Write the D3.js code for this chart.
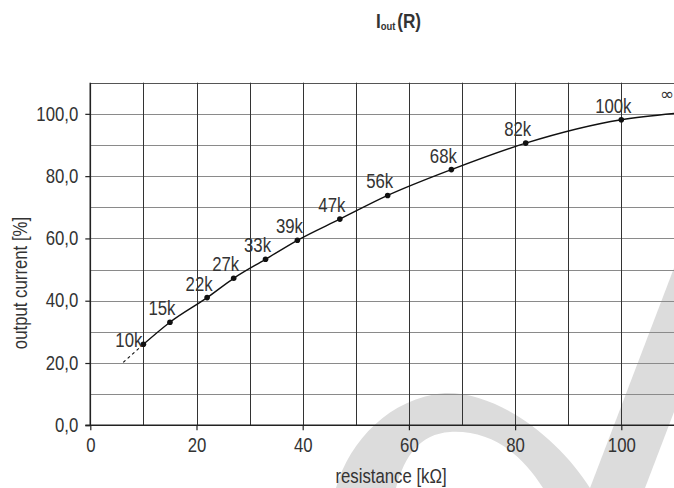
<!DOCTYPE html>
<html>
<head>
<meta charset="utf-8">
<script src="https://cdn.jsdelivr.net/npm/d3@7"></script>
<style>
  body { margin: 0; background: #fff; }
  svg { display: block; }
  text { font-family: "Liberation Sans", Arial, sans-serif; fill: #333; }
</style>
</head>
<body>
<svg id="chart" width="674" height="488"></svg>
<script>
// measured points of the curve (resistance in kOhm, output current in %)
var resistances = [10, 15, 22, 27, 33, 39, 47, 56, 68, 82, 100];
var currents = [26.0, 33.1, 41.0, 47.2, 53.3, 59.4, 66.2, 73.8, 82.1, 90.6, 98.1];
var pointLabels = ["10k", "15k", "22k", "27k", "33k", "39k", "47k", "56k", "68k", "82k", "100k"];

// curve continues towards "infinity" at the right edge
var endPoint = [110, 100.1];
// dashed extrapolation below 10k
var dashStart = [6.2, 20.2];

var xTicks = [0, 20, 40, 60, 80, 100];
var yTicks = [0, 20, 40, 60, 80, 100];
var xGrid = [10, 20, 30, 40, 50, 60, 70, 80, 90, 100];
var yGrid = [10, 20, 30, 40, 50, 60, 70, 80, 90, 100, 110];

var SQ = 0.86; // 横方向の圧縮（コンデンス書体の代わり）

var svg = d3.select("#chart");

var x = d3.scaleLinear().domain([0, 110]).range([90.3, 674.4]);
var y = d3.scaleLinear().domain([0, 110]).range([425.3, 82.7]);

// 位置(px,py)に細めの文字を置く
function narrowText(parent, px, py, str, size) {
  return parent.append("text")
    .attr("transform", "translate(" + px + "," + py + ") scale(" + SQ + ",1)")
    .attr("font-size", size)
    .text(str);
}

//透かし（背景の薄いグレー）
var wm = svg.append("g").attr("fill", "#dcdcdc");
wm.append("path").attr("d", "M336,488 C350,440 390,398 445,393 C500,392 560,440 590,488 L543,488 C520,452 490,430 450,432 C420,434 405,455 396,488 Z");
wm.append("path").attr("d", "M590,488 L645,488 L674,412 L674,268 Z");

//グリッド（横線）
svg.append("g").selectAll("line")
  .data(yGrid)
  .enter().append("line")
  .attr("x1", x(0)).attr("x2", x(110))
  .attr("y1", function(d){ return Math.round(y(d)) + 0.5; })
  .attr("y2", function(d){ return Math.round(y(d)) + 0.5; })
  .attr("stroke", function(d){ return d === 110 ? "#555" : "#8a8a8a"; })
  .attr("stroke-width", 1.2);

//グリッド（縦線）
svg.append("g").selectAll("line")
  .data(xGrid)
  .enter().append("line")
  .attr("x1", function(d){ return Math.round(x(d)) + 0.5; })
  .attr("x2", function(d){ return Math.round(x(d)) + 0.5; })
  .attr("y1", y(110)).attr("y2", y(0))
  .attr("stroke", "#333")
  .attr("stroke-width", 1);

//軸
var xAxis = d3.axisBottom(x).tickValues(xTicks).tickSize(5).tickPadding(8)
  .tickFormat(d3.format("d"));
var yAxis = d3.axisLeft(y).tickValues(yTicks).tickSize(5).tickPadding(6)
  .tickFormat(function(d){ return d3.format(".1f")(d).replace(".", ","); });

var gx = svg.append("g").attr("transform", "translate(0," + y(0) + ")").call(xAxis);
var gy = svg.append("g").attr("transform", "translate(" + x(0) + ",0)").call(yAxis);
[gx, gy].forEach(function(g){
  g.select(".domain").attr("stroke", "#222").attr("stroke-width", 1.6);
  g.selectAll(".tick line").attr("stroke", "#222").attr("stroke-width", 1.2);
  g.selectAll(".tick text").attr("font-size", 19.5).attr("fill", "#3a3a3a")
    .style("font-family", '"Liberation Sans", Arial, sans-serif');
});
gy.selectAll(".tick text").attr("transform", "scale(" + SQ + ",1)").attr("x", -12 / SQ);
gx.selectAll(".tick text").attr("transform", "scale(" + SQ + ",1)");
gx.select(".domain").attr("d", "M" + (x(0) - 5) + ",0H" + x(110));
gy.select(".domain").attr("d", "M0," + y(110) + "V" + y(0));

//曲線
var pts = resistances.map(function(r, i){ return [r, currents[i]]; });
var line = d3.line()
  .x(function(d){ return x(d[0]); })
  .y(function(d){ return y(d[1]); })
  .curve(d3.curveMonotoneX);

svg.append("path")
  .datum(pts.concat([endPoint]))
  .attr("d", line)
  .attr("fill", "none")
  .attr("stroke", "#111")
  .attr("stroke-width", 1.4);

svg.append("path")
  .datum([dashStart, pts[0]])
  .attr("d", d3.line().x(function(d){ return x(d[0]); }).y(function(d){ return y(d[1]); }))
  .attr("fill", "none")
  .attr("stroke", "#111")
  .attr("stroke-width", 1.2)
  .attr("stroke-dasharray", "3,3");

svg.append("g").selectAll("circle")
  .data(pts)
  .enter().append("circle")
  .attr("cx", function(d){ return x(d[0]); })
  .attr("cy", function(d){ return y(d[1]); })
  .attr("r", 2.8)
  .attr("fill", "#111");

//点のラベル
var gl = svg.append("g");
pts.forEach(function(d, i){
  if (i === 0) {
    narrowText(gl, x(d[0]) - 1, y(d[1]) + 3, pointLabels[i], 19.5).attr("text-anchor", "end");
  } else {
    narrowText(gl, x(d[0]) - 8, y(d[1]) - 7, pointLabels[i], 19.5).attr("text-anchor", "middle");
  }
});

svg.append("text")
  .attr("x", x(108.6)).attr("y", y(104.5))
  .attr("text-anchor", "middle")
  .attr("font-size", 17)
  .style("font-family", '"DejaVu Sans", sans-serif')
  .text("∞");

//軸タイトル
narrowText(svg, 391, 483, "resistance [kΩ]", 19.5).attr("text-anchor", "middle");

svg.append("text")
  .attr("transform", "translate(27,283) rotate(-90) scale(" + SQ + ",1)")
  .attr("text-anchor", "middle")
  .attr("font-size", 19.5)
  .text("output current [%]");

//タイトル
var title = svg.append("text")
  .attr("transform", "translate(376,28) scale(" + SQ + ",1)")
  .attr("font-size", 20)
  .attr("font-weight", "bold")
  .attr("fill", "#111");
title.append("tspan").text("I");
title.append("tspan").attr("font-size", 11).attr("dy", 2).text("out");
title.append("tspan").attr("dy", -2).attr("dx", 2).text("(R)");
</script>
</body>
</html>
